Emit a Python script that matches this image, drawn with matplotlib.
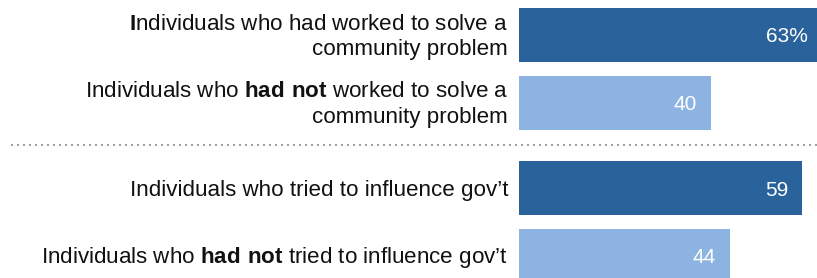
import matplotlib
matplotlib.use("Agg")
import matplotlib.pyplot as plt
import matplotlib.transforms as mtransforms
from matplotlib.lines import Line2D

plt.rcParams['font.family'] = ['Liberation Sans', 'DejaVu Sans']
plt.rcParams['mathtext.fontset'] = 'custom'
plt.rcParams['mathtext.rm'] = 'Liberation Sans'
plt.rcParams['mathtext.bf'] = 'Liberation Sans:bold'

# ---- data ----
label_lines = [
    ["$\\mathbf{I}$ndividuals who had worked to solve a", "community problem"],
    ["Individuals who $\\mathbf{had\\ not}$ worked to solve a", "community problem"],
    ["Individuals who tried to influence gov\u2019t"],
    ["Individuals who $\\mathbf{had\\ not}$ tried to influence gov\u2019t"],
]
values = [63, 40, 59, 44]
value_labels = ["63%", "40", "59", "44"]
colors = ["#2A639C", "#8DB3E2", "#2A639C", "#8DB3E2"]

# ---- layout ----
W, H, DPI = 817, 278, 100
bar_left_px = 519
px_per_unit = 4.8
row_px = 67.5
first_center_px = 35
group_gap = 0.274
bar_h = 0.8

fig = plt.figure(figsize=(W / DPI, H / DPI), dpi=DPI)
ax = fig.add_axes([bar_left_px / W, 0, 1 - bar_left_px / W, 1])
ax.axis('off')
ax.set_xlim(0, (W - bar_left_px) / px_per_unit)
ax.set_ylim((H - first_center_px) / row_px, -first_center_px / row_px)

pos = [i + (group_gap if i >= 2 else 0) for i in range(len(values))]

ax.barh(pos, values, height=bar_h, color=colors, clip_on=True)

for v, p, t in zip(values, pos, value_labels):
    ax.annotate(t, xy=(v, p), xytext=(-14, -7.5), textcoords='offset pixels',
                ha='right', va='baseline', color='white', fontsize=15,
                annotation_clip=False)

# category labels
trans = mtransforms.blended_transform_factory(fig.transFigure, ax.transData)
label_x = 508 / W
for lines, p in zip(label_lines, pos):
    if len(lines) == 1:
        offs = [-7.5]
    else:
        offs = [5.5, -20.5]
    for txt, o in zip(lines, offs):
        tr = mtransforms.offset_copy(trans, fig=fig, x=0, y=o, units='dots')
        fig.text(label_x, p, txt, transform=tr, ha='right', va='baseline',
                 fontsize=16.1, color='#111111')

# dotted separator
sep_y = (pos[1] + pos[2]) / 2
fig.add_artist(Line2D([11 / W, 1], [sep_y, sep_y], transform=trans,
                      color='#a0a0a0', linewidth=1.44,
                      linestyle=(0, (1, 2)), dash_capstyle='butt'))

fig.savefig('out.png', dpi=DPI)
